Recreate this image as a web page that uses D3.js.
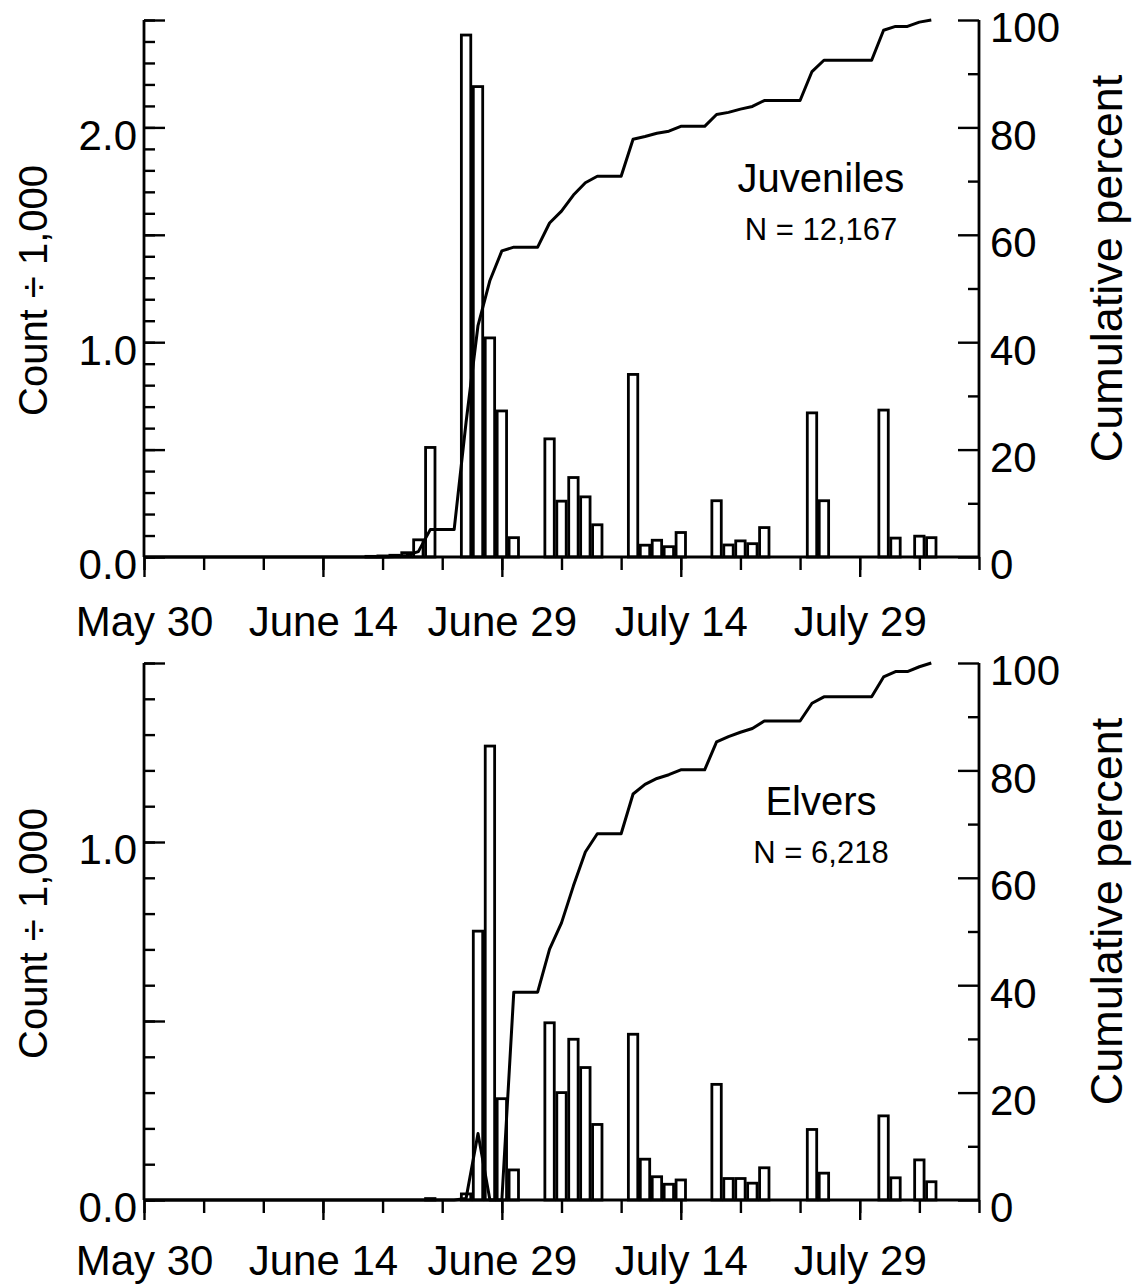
<!DOCTYPE html>
<html>
<head>
<meta charset="utf-8">
<script src="https://cdn.jsdelivr.net/npm/d3@7"></script>
<style>
  html, body { margin: 0; padding: 0; background: #fff; }
  svg { display: block; }
  text { font-family: "Liberation Sans", Arial, Helvetica, sans-serif; fill: #000; }
</style>
</head>
<body>
<svg id="chart" width="1133" height="1285"></svg>
<script>
// Days are counted from May 30 (day 0); the axis runs to day 70 (Aug 8).
const xTickLabels = ["May 30", "June 14", "June 29", "July 14", "July 29"];
const xTickDays = [0, 15, 30, 45, 60];
const xMinorDays = [0, 5, 10, 15, 20, 25, 30, 35, 40, 45, 50, 55, 60, 65, 70];

// Juveniles: daily counts (thousands)
const juvDays = [19, 20, 21, 22, 23, 24, 27, 28, 29, 30, 31, 34, 35, 36, 37, 38,
  41, 42, 43, 44, 45, 48, 49, 50, 51, 52, 56, 57, 62, 63, 65, 66];
const juvCounts = [0.003, 0.005, 0.008, 0.02, 0.08, 0.51, 2.43, 2.19, 1.02, 0.68, 0.09,
  0.55, 0.26, 0.37, 0.28, 0.15, 0.85, 0.055, 0.078, 0.048, 0.114,
  0.262, 0.056, 0.075, 0.062, 0.137, 0.671, 0.262, 0.684, 0.088, 0.097, 0.09];

// Juveniles: cumulative percent
const juvCumDays = [0, 20, 21, 22, 23, 24, 25, 26, 27, 28, 29, 30, 31, 32, 33, 34, 35, 36, 37, 38,
  39, 40, 41, 42, 43, 44, 45, 46, 47, 48, 49, 50, 51, 52, 53, 54, 55, 56, 57, 58, 59, 60, 61,
  62, 63, 64, 65, 66];
const juvCumPct = [0, 0, 0.1, 0.3, 1.0, 5.1, 5.1, 5.1, 25.1, 43.1, 51.5, 57.0, 57.7, 57.7, 57.7,
  62.2, 64.4, 67.4, 69.7, 70.9, 70.9, 70.9, 77.8, 78.3, 78.9, 79.3, 80.2, 80.2, 80.2,
  82.4, 82.8, 83.4, 83.9, 85.0, 85.0, 85.0, 85.0, 90.4, 92.5, 92.5, 92.5, 92.5, 92.5,
  98.1, 98.8, 98.8, 99.6, 100];

// Elvers: daily counts (thousands)
const elvDays = [24, 27, 28, 29, 30, 31, 34, 35, 36, 37, 38, 41, 42, 43, 44, 45,
  48, 49, 50, 51, 52, 56, 57, 62, 63, 65, 66];
const elvCounts = [0.004, 0.017, 0.751, 1.268, 0.283, 0.084, 0.495, 0.30, 0.449, 0.37, 0.211,
  0.463, 0.114, 0.065, 0.044, 0.056, 0.323, 0.06, 0.06, 0.047, 0.09,
  0.197, 0.075, 0.235, 0.062, 0.112, 0.051];

// Elvers: cumulative percent
const elvCumDays = [0, 26, 27, 28, 29, 30, 31, 32, 33, 34, 35, 36, 37, 38, 39, 40, 41, 42, 43, 44,
  45, 46, 47, 48, 49, 50, 51, 52, 53, 54, 55, 56, 57, 58, 59, 60, 61, 62, 63, 64, 65, 66];
const elvCumPct = [0, 0, 0.3, 12.4, 0, 0, 38.7, 38.7, 38.7, 46.7, 51.6, 58.5, 64.8, 68.2,
  68.2, 68.2, 75.6, 77.4, 78.5, 79.2, 80.1, 80.1, 80.1, 85.3, 86.3, 87.1, 87.8, 89.2,
  89.2, 89.2, 89.2, 92.5, 93.7, 93.7, 93.7, 93.7, 93.7, 97.4, 98.4, 98.4, 99.3, 100];

// Axis tick values
const juvLeftMinor = d3.range(0, 26).map(i => i / 10);
const juvLeftMajor = [0, 0.5, 1.0, 1.5, 2.0, 2.5];
const juvLeftLabels = [0, 1.0, 2.0];
const elvLeftMinor = d3.range(0, 16).map(i => i / 10);
const elvLeftMajor = [0, 0.5, 1.0, 1.5];
const elvLeftLabels = [0, 1.0];
const pctMinor = [10, 30, 50, 70, 90];
const pctMajor = [0, 20, 40, 60, 80, 100];

const svg = d3.select("#chart");
const X0 = 144, X1 = 979;
const TICK_FONT = 42;

function panel(cfg) {
  const x = d3.scaleLinear().domain([0, 70]).range([X0, X1]);
  const y = d3.scaleLinear().domain([0, cfg.yMax]).range([cfg.bottom, cfg.top]);
  const yp = d3.scaleLinear().domain([0, 100]).range([cfg.bottom, cfg.top]);
  const g = svg.append("g");

  // bars
  const bw = 9.4;
  const bars = cfg.days.map((d, i) => ({ day: d, v: cfg.counts[i] }));
  g.append("g").selectAll("rect").data(bars).join("rect")
    .attr("x", d => x(d.day) - bw / 2)
    .attr("y", d => y(d.v))
    .attr("width", bw)
    .attr("height", d => y(0) - y(d.v))
    .attr("fill", "#fff")
    .attr("stroke", "#000")
    .attr("stroke-width", 2.8);

  // cumulative percent line
  const pts = cfg.cumDays.map((d, i) => [d, cfg.cumPct[i]]);
  g.append("path")
    .datum(pts)
    .attr("fill", "none")
    .attr("stroke", "#000")
    .attr("stroke-width", 3)
    .attr("stroke-linejoin", "round")
    .attr("d", d3.line().x(d => x(d[0])).y(d => yp(d[1])));

  const noDomain = sel => sel.select(".domain").remove();
  const tickStyle = sel => sel.selectAll(".tick line").attr("stroke", "#000").attr("stroke-width", 2.4);

  // left axis ticks (inward)
  g.append("g").attr("transform", `translate(${X0},0)`)
    .call(d3.axisRight(y).tickValues(cfg.leftMinor).tickSize(11).tickFormat(""))
    .call(noDomain).call(tickStyle);
  g.append("g").attr("transform", `translate(${X0},0)`)
    .call(d3.axisRight(y).tickValues(cfg.leftMajor).tickSize(21).tickFormat(""))
    .call(noDomain).call(tickStyle);
  const ll = g.append("g").attr("transform", `translate(${X0},0)`)
    .call(d3.axisLeft(y).tickValues(cfg.leftLabels).tickSize(0).tickPadding(7).tickFormat(d3.format(".1f")))
    .call(noDomain);
  ll.selectAll("text").attr("font-size", TICK_FONT).attr("dy", "0.52em")
    .style("font-family", "Liberation Sans, Arial, sans-serif");

  // right axis ticks (inward)
  g.append("g").attr("transform", `translate(${X1},0)`)
    .call(d3.axisLeft(yp).tickValues(pctMinor).tickSize(11).tickFormat(""))
    .call(noDomain).call(tickStyle);
  g.append("g").attr("transform", `translate(${X1},0)`)
    .call(d3.axisLeft(yp).tickValues(pctMajor).tickSize(21).tickFormat(""))
    .call(noDomain).call(tickStyle);
  const rl = g.append("g").attr("transform", `translate(${X1},0)`)
    .call(d3.axisRight(yp).tickValues(pctMajor).tickSize(0).tickPadding(11).tickFormat(d3.format("d")))
    .call(noDomain);
  rl.selectAll("text").attr("font-size", TICK_FONT).attr("dy", "0.52em")
    .style("font-family", "Liberation Sans, Arial, sans-serif");

  // bottom axis ticks (outward)
  g.append("g").attr("transform", `translate(0,${cfg.bottom})`)
    .call(d3.axisBottom(x).tickValues(xMinorDays).tickSize(13).tickFormat(""))
    .call(noDomain).call(tickStyle);
  g.append("g").attr("transform", `translate(0,${cfg.bottom})`)
    .call(d3.axisBottom(x).tickValues(xTickDays).tickSize(20).tickFormat(""))
    .call(noDomain).call(tickStyle);
  const bl = g.append("g").attr("transform", `translate(0,${cfg.bottom})`)
    .call(d3.axisBottom(x).tickValues(xTickDays).tickSize(0).tickPadding(0)
      .tickFormat((d, i) => xTickLabels[i]))
    .call(noDomain);
  bl.selectAll("text").attr("font-size", TICK_FONT).attr("y", cfg.labelDy).attr("dy", 0)
    .style("font-family", "Liberation Sans, Arial, sans-serif");

  // frame lines: left, right, bottom
  const frame = g.append("g").attr("stroke", "#000").attr("stroke-width", 2.8).attr("fill", "none");
  frame.append("line").attr("x1", X0).attr("x2", X0).attr("y1", cfg.top).attr("y2", cfg.bottom);
  frame.append("line").attr("x1", X1).attr("x2", X1).attr("y1", cfg.top).attr("y2", cfg.bottom);
  frame.append("line").attr("x1", X0).attr("x2", X1).attr("y1", cfg.bottom).attr("y2", cfg.bottom);

  // axis titles
  const mid = (cfg.top + cfg.bottom) / 2;
  g.append("text")
    .attr("transform", `translate(47,${mid + 2}) rotate(-90)`)
    .attr("text-anchor", "middle").attr("font-size", 40)
    .text("Count \u00f7 1,000");
  g.append("text")
    .attr("transform", `translate(1122,${mid - 20}) rotate(-90)`)
    .attr("text-anchor", "middle").attr("font-size", 45)
    .text("Cumulative percent");

  // series label and total
  g.append("text").attr("x", 821).attr("y", cfg.top + cfg.nameDy)
    .attr("text-anchor", "middle").attr("font-size", 40).text(cfg.name);
  g.append("text").attr("x", 821).attr("y", cfg.top + cfg.nameDy + 48)
    .attr("text-anchor", "middle").attr("font-size", 31).text(cfg.total);
}

panel({
  top: 20, bottom: 557, yMax: 2.5,
  days: juvDays, counts: juvCounts,
  cumDays: juvCumDays, cumPct: juvCumPct,
  leftMinor: juvLeftMinor, leftMajor: juvLeftMajor, leftLabels: juvLeftLabels,
  name: "Juveniles", total: "N = 12,167", nameDy: 172, labelDy: 79
});

panel({
  top: 663, bottom: 1200, yMax: 1.5,
  days: elvDays, counts: elvCounts,
  cumDays: elvCumDays, cumPct: elvCumPct,
  leftMinor: elvLeftMinor, leftMajor: elvLeftMajor, leftLabels: elvLeftLabels,
  name: "Elvers", total: "N = 6,218", nameDy: 152, labelDy: 75
});
</script>
</body>
</html>
